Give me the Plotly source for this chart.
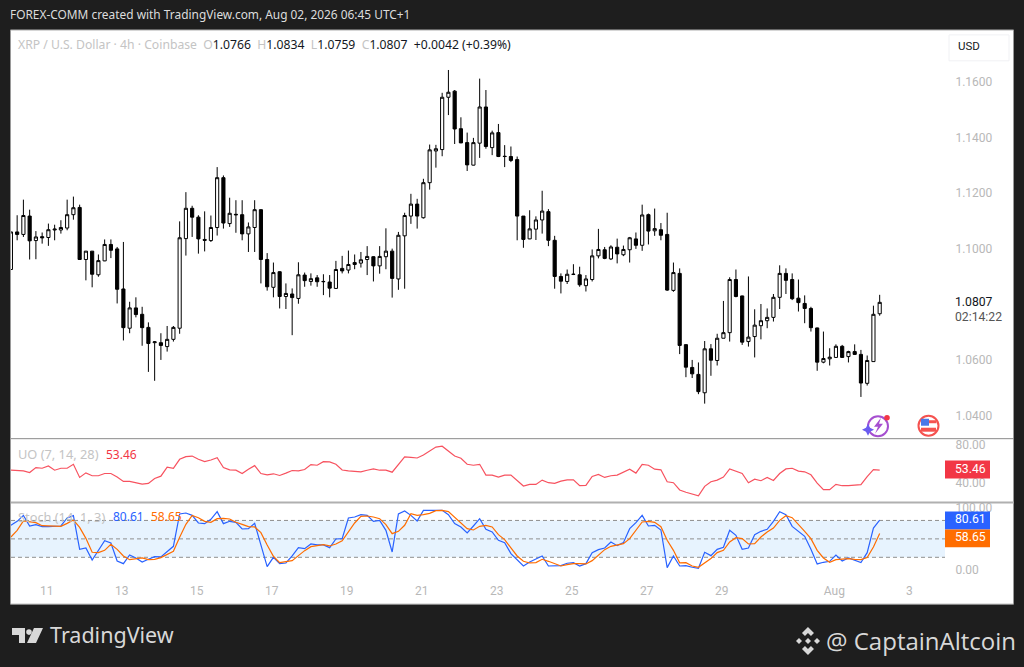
import pandas as pd
import plotly.graph_objects as go

W, H = 1024, 667
opens = [1.0925,1.1060,1.1051,1.1117,1.1029,1.1043,1.1040,1.1067,1.1067,1.1074,1.1122,1.1148,1.0961,1.0991,1.0906,1.0956,1.1015,1.0999,1.0855,1.0714,
1.0787,1.0764,1.0717,1.0662,1.0662,1.0648,1.0674,1.0714,1.1036,1.1145,1.1113,1.1033,1.1029,1.1076,1.1255,1.1090,1.1121,1.1122,1.1053,1.1076,
1.1140,1.0961,1.0861,1.0917,1.0828,1.0837,1.0821,1.0905,1.0882,1.0895,1.0881,1.0880,1.0857,1.0929,1.0923,1.0943,1.0948,1.0961,1.0971,1.0938,
1.0971,1.0991,1.0891,1.1046,1.1117,1.1160,1.1111,1.1237,1.1351,1.1356,1.1544,1.1566,1.1431,1.1381,1.1300,1.1379,1.1509,1.1363,1.1417,1.1332,
1.1331,1.1320,1.1117,1.1035,1.1070,1.1103,1.1133,1.1030,1.0900,1.0882,1.0907,1.0906,1.0867,1.0889,1.0974,1.0996,1.0963,1.1005,1.0978,1.0996,
1.1035,1.1012,1.1122,1.1064,1.1068,1.1051,1.0850,1.0911,1.0655,1.0573,1.0548,1.0482,1.0640,1.0598,1.0678,1.0698,1.0889,1.0830,1.0666,1.0684,
1.0723,1.0741,1.0753,1.0825,1.0911,1.0889,1.0822,1.0803,1.0785,1.0715,1.0592,1.0604,1.0609,1.0649,1.0612,1.0630,1.0620,1.0516,1.0594,1.0766]
highs = [1.1060,1.1120,1.1176,1.1140,1.1063,1.1058,1.1090,1.1086,1.1102,1.1176,1.1187,1.1158,1.0991,1.0991,1.0979,1.1033,1.1033,1.1006,1.1024,1.0809,
1.0825,1.0791,1.0735,1.0668,1.0696,1.0722,1.0722,1.1098,1.1203,1.1154,1.1120,1.1134,1.1119,1.1293,1.1263,1.1183,1.1174,1.1174,1.1094,1.1174,
1.1141,1.0984,1.0950,1.0919,1.0875,1.0857,1.0951,1.0914,1.0911,1.0905,1.0908,1.0905,1.0956,1.0974,1.0993,1.0979,1.0988,1.1009,1.0973,1.1009,
1.1073,1.1000,1.1060,1.1129,1.1197,1.1179,1.1251,1.1374,1.1373,1.1560,1.1642,1.1570,1.1472,1.1417,1.1398,1.1611,1.1570,1.1424,1.1448,1.1372,
1.1367,1.1331,1.1117,1.1138,1.1116,1.1208,1.1142,1.1046,1.0911,1.0925,1.0944,1.0935,1.0905,1.0997,1.1071,1.1006,1.1012,1.1036,1.1011,1.1042,
1.1058,1.1158,1.1126,1.1144,1.1092,1.1129,1.0950,1.0929,1.0656,1.0600,1.0591,1.0668,1.0657,1.0694,1.0812,1.0897,1.0925,1.0831,1.0900,1.0782,
1.0801,1.0785,1.0837,1.0940,1.0929,1.0911,1.0889,1.0832,1.0791,1.0716,1.0702,1.0642,1.0656,1.0654,1.0633,1.0656,1.0636,1.0616,1.0795,1.0834]
lows = [1.0925,1.1030,1.1042,1.0961,1.0962,1.1018,1.1010,1.1030,1.1054,1.1066,1.1104,1.0961,1.0886,1.0861,1.0899,1.0955,1.0966,1.0803,1.0670,1.0696,
1.0753,1.0651,1.0557,1.0525,1.0600,1.0630,1.0666,1.0694,1.0975,1.1042,1.0982,1.0990,1.1024,1.1047,1.1072,1.1078,1.1057,1.1030,1.0988,1.0988,
1.0875,1.0849,1.0825,1.0785,1.0783,1.0689,1.0802,1.0863,1.0867,1.0863,1.0833,1.0825,1.0856,1.0911,1.0911,1.0926,1.0932,1.0905,1.0882,1.0910,
1.0926,1.0824,1.0852,1.0856,1.1089,1.1072,1.1108,1.1212,1.1291,1.1332,1.1480,1.1376,1.1379,1.1279,1.1299,1.1326,1.1359,1.1336,1.1329,1.1293,
1.1311,1.1030,1.1003,1.1034,1.1031,1.1054,1.1009,1.0856,1.0839,1.0873,1.0905,1.0863,1.0846,1.0882,1.0965,1.0962,1.0959,1.0947,1.0973,1.0950,
1.0999,1.0992,1.1015,1.1046,1.1030,1.0848,1.0845,1.0621,1.0538,1.0535,1.0477,1.0443,1.0543,1.0580,1.0678,1.0666,1.0825,1.0654,1.0648,1.0609,
1.0674,1.0714,1.0738,1.0783,1.0837,1.0815,1.0774,1.0732,1.0702,1.0561,1.0588,1.0580,1.0608,1.0607,1.0591,1.0618,1.0467,1.0508,1.0594,1.0759]
closes = [1.1060,1.1051,1.1119,1.1028,1.1042,1.1039,1.1068,1.1070,1.1076,1.1122,1.1147,1.0961,1.0991,1.0908,1.0957,1.1015,1.0994,1.0854,1.0716,1.0787,
1.0763,1.0716,1.0659,1.0665,1.0652,1.0674,1.0717,1.1039,1.1145,1.1113,1.1035,1.1030,1.1076,1.1255,1.1092,1.1127,1.1123,1.1053,1.1078,1.1140,
1.0961,1.0863,1.0914,1.0828,1.0839,1.0824,1.0906,1.0885,1.0892,1.0881,1.0882,1.0858,1.0925,1.0920,1.0943,1.0950,1.0960,1.0972,1.0938,1.0972,
1.0991,1.0893,1.1048,1.1119,1.1160,1.1117,1.1237,1.1355,1.1359,1.1544,1.1562,1.1430,1.1380,1.1301,1.1381,1.1509,1.1367,1.1416,1.1331,1.1331,
1.1317,1.1117,1.1033,1.1071,1.1103,1.1135,1.1030,1.0900,1.0883,1.0908,1.0908,1.0870,1.0891,1.0974,1.0997,1.0965,1.1006,1.0981,1.0997,1.1039,
1.1012,1.1121,1.1063,1.1072,1.1048,1.0851,1.0914,1.0652,1.0574,1.0550,1.0486,1.0640,1.0599,1.0678,1.0698,1.0889,1.0828,1.0664,1.0682,1.0725,
1.0741,1.0753,1.0825,1.0911,1.0886,1.0820,1.0806,1.0785,1.0716,1.0592,1.0605,1.0610,1.0649,1.0609,1.0630,1.0620,1.0517,1.0598,1.0764,1.0807]
uo = [53.3,53.3,52.6,50.9,56.1,55.4,57.9,53.3,55.4,55.4,59.6,45.6,50.5,47.4,47.4,49.8,49.8,46.0,41.4,41.4,40.0,38.6,39.3,44.5,47.0,56.5,55.4,64.9,67.7,68.4,64.9,62.4,64.2,66.7,56.1,53.7,53.3,49.8,54.4,58.2,49.8,48.4,49.5,47.7,50.2,53.0,52.6,54.0,59.3,58.6,62.4,62.1,59.6,
53.5,52.6,51.9,51.6,53.3,54.7,53.3,53.3,51.2,59.6,67.4,67.0,66.3,69.5,74.0,77.9,78.9,74.0,68.4,66.0,59.6,58.6,59.6,48.1,48.1,46.0,48.1,48.1,42.4,36.5,38.2,38.2,42.8,40.0,39.3,41.7,43.1,43.1,36.8,37.2,46.6,48.8,45.6,47.4,48.1,50.9,54.4,50.2,59.6,58.6,54.4,53.7,41.0,40.0,32.3,
29.8,28.1,26.0,36.1,41.0,42.8,46.0,54.7,52.3,49.8,40.0,43.8,42.1,45.6,42.4,49.8,54.7,55.4,52.3,51.6,48.4,39.6,32.6,32.6,38.2,36.8,36.8,37.5,37.9,46.6,54.0,53.46]
stoch_k = [72.1,78.6,88.3,71.0,73.1,69.9,69.9,69.9,71.0,84.0,87.8,33.0,35.2,15.7,31.4,47.1,43.3,14.1,9.7,23.8,19.0,12.4,16.8,21.1,20.6,29.2,37.9,90.5,92.1,88.3,75.9,74.8,81.8,94.3,74.8,78.6,77.0,66.1,66.6,75.3,39.5,4.9,20.0,9.7,10.8,22.2,35.7,34.1,41.7,40.1,40.1,35.7,49.8,
50.4,84.0,85.6,89.4,88.3,78.6,80.2,63.9,28.7,90.5,95.4,88.3,79.1,96.4,96.4,96.4,96.4,89.4,74.8,69.4,59.6,71.0,82.9,65.6,61.2,47.7,43.9,26.0,15.2,5.9,12.4,17.9,22.2,5.9,5.9,6.5,10.3,11.4,5.9,9.7,27.6,32.5,35.2,45.0,39.0,43.9,66.6,76.4,88.3,71.0,72.1,64.5,3.2,22.2,5.9,
6.5,3.8,2.1,28.2,22.7,33.0,36.3,63.9,55.8,33.0,35.2,56.9,62.3,65.6,78.6,94.3,89.4,70.4,62.8,54.2,33.0,9.2,11.9,13.5,23.8,14.1,19.0,15.2,11.4,27.6,67.7,80.61]
stoch_d = [53.1,63.9,79.1,77.5,76.4,71.5,71.0,70.4,70.4,75.3,80.7,68.8,50.9,28.2,27.6,31.4,41.2,33.0,22.2,16.2,17.9,19.0,16.2,16.8,19.5,24.4,29.8,52.5,73.7,88.3,84.5,78.6,77.0,82.9,83.4,82.4,77.0,73.7,69.9,69.4,60.1,40.1,21.7,11.4,12.4,14.6,22.7,30.9,37.4,39.0,40.6,38.5,41.7,
47.0,62.3,75.9,86.7,87.2,85.6,82.9,73.1,58.5,62.3,72.1,91.0,88.3,89.4,91.6,95.9,96.4,94.3,85.6,76.4,66.6,64.5,70.4,72.1,69.4,56.9,48.8,35.2,22.2,13.5,10.8,11.4,16.8,13.5,9.7,5.9,8.1,9.7,9.7,9.2,14.6,24.4,32.5,37.9,39.5,42.2,50.4,63.9,77.5,78.6,77.0,69.9,47.7,31.4,11.0,
11.4,5.9,3.8,11.4,17.9,27.6,31.4,45.0,52.0,50.4,41.7,42.2,53.1,61.2,67.7,80.2,87.8,84.5,74.2,62.3,50.4,31.4,19.0,11.9,16.2,16.8,17.9,16.8,16.2,19.5,36.8,58.65]
for arr in (opens, highs, lows, closes, uo, stoch_k, stoch_d):
    assert len(arr) == 140, len(arr)

times = pd.date_range("2026-07-10 01:00", periods=140, freq="4h")
day_ticks = pd.to_datetime(["2026-07-11","2026-07-13","2026-07-15","2026-07-17","2026-07-19","2026-07-21","2026-07-23","2026-07-25","2026-07-27","2026-07-29","2026-08-01","2026-08-03"])
day_labels = ["11","13","15","17","19","21","23","25","27","29","Aug","3"]
price_ticks = [1.04, 1.06, 1.10, 1.12, 1.14, 1.16]
x_range = ["2026-07-10 01:04", "2026-08-03 22:48"]

def px(x): return x / W
def py(y): return 1 - y / H
FONT = "Noto Sans"
NUM = "Roboto"
GREY = "#b8b8b8"

fig = go.Figure()
fig.add_trace(go.Candlestick(x=times, open=opens, high=highs, low=lows, close=closes, xaxis="x", yaxis="y",
    increasing=dict(line=dict(color="#000000", width=1), fillcolor="#ffffff"),
    decreasing=dict(line=dict(color="#000000", width=1), fillcolor="#000000"),
    whiskerwidth=0, showlegend=False))
fig.add_trace(go.Scatter(x=times, y=uo, mode="lines", line=dict(color="#f7525f", width=1.2), xaxis="x2", yaxis="y2", showlegend=False))
fig.add_trace(go.Scatter(x=times, y=stoch_k, mode="lines", line=dict(color="#2962ff", width=1.2), xaxis="x3", yaxis="y3", showlegend=False))
fig.add_trace(go.Scatter(x=times, y=stoch_d, mode="lines", line=dict(color="#ff6d00", width=1.2), xaxis="x3", yaxis="y3", showlegend=False))

def rect(x0, y0, x1, y1, fill, line=None, lw=0, layer="below"):
    return dict(type="rect", xref="paper", yref="paper", x0=px(x0), x1=px(x1), y0=py(y0), y1=py(y1),
                fillcolor=fill, line=dict(color=line or fill, width=lw), layer=layer)
def hline(y, color, lw, x0=11, x1=1014):
    return dict(type="line", xref="paper", yref="paper", x0=px(x0), x1=px(x1), y0=py(y), y1=py(y), line=dict(color=color, width=lw), layer="above")
def path(pts, fill, layer="above"):
    d = "M " + " L ".join(f"{px(a):.5f},{py(b):.5f}" for a, b in pts) + " Z"
    return dict(type="path", xref="paper", yref="paper", path=d, fillcolor=fill, line=dict(width=0), layer=layer)
def circle(cx, cy, r, fill, line=None, lw=0):
    return dict(type="circle", xref="paper", yref="paper", x0=px(cx-r), x1=px(cx+r), y0=py(cy-r), y1=py(cy+r),
                fillcolor=fill, line=dict(color=line or fill, width=lw), layer="above")

shapes = [
    rect(10.5, 28, 1013.5, 604, "#ffffff", "#9a9a9a", 1),
    dict(type="rect", xref="paper", yref="y3", x0=px(11), x1=px(945), y0=20, y1=80, fillcolor="rgba(33,150,243,0.11)", line=dict(width=0), layer="below"),
]
for lvl in (80, 50, 20):
    shapes.append(dict(type="line", xref="paper", yref="y3", x0=px(11), x1=px(945), y0=lvl, y1=lvl,
                       line=dict(color="#8f8f8f", width=1, dash="4px,3px"), layer="below"))
shapes += [
    hline(438, "#8a8a8a", 1),
    hline(502, "#b0b0b0", 2),
    rect(949, 33, 1009, 59, "#ffffff", "#f0f1f4", 1, "above"),
    rect(945, 460, 990, 478, "#f23645", layer="above"),
    rect(945, 511, 990, 529, "#2962ff", layer="above"),
    rect(945, 529, 990, 547, "#ff6d00", layer="above"),
    # event icons
    circle(878, 425.5, 10, "#ffffff", "#a64fd0", 2),
    path([(881,417),(874,426),(878,426),(875,433),(883,423),(879,423)], "#a64fd0"),
    path([(868,423),(870,427),(874,429),(870,431),(868,435),(866,431),(862,429),(866,427)], "#6a5cf0"),
    circle(887, 417, 2.8, "#f23645"),
    circle(928.5, 425, 10, "#ffffff", "#f5524f", 2),
    rect(921, 418, 929, 425, "#4a78e8", layer="above"),
    rect(929, 419.5, 936.5, 422.5, "#f5524f", layer="above"),
    rect(921, 427, 936, 431, "#f5524f", layer="above"),
    # TradingView mark
    path([(12,628),(25,628),(25,643),(19,643),(19,635),(12,635)], "#d8d8d8"),
    circle(29, 632, 2.8, "#d8d8d8"),
    path([(34,628),(43,628),(36,643),(27,643)], "#d8d8d8"),
    # diamond mark
    path([(808,627),(814,633),(811,636),(808,633),(805,636),(802,633)], "#d8d8d8"),
    path([(808,655),(814,649),(811,646),(808,649),(805,646),(802,649)], "#d8d8d8"),
    path([(808,638),(811,641),(808,644),(805,641)], "#d8d8d8"),
    path([(799,638),(802,641),(799,644),(796,641)], "#d8d8d8"),
    path([(817,638),(820,641),(817,644),(814,641)], "#d8d8d8"),
]

def txt(x, y, text, size, color, font=FONT, anchor="left"):
    return dict(xref="paper", yref="paper", x=px(x), y=py(y), text=text, showarrow=False, xanchor=anchor, yanchor="middle",
                font=dict(family=font, size=size, color=color), align="left")
def g(s): return f'<span style="color:#c4c4c4">{s}</span>'

annotations = [
    txt(8, 12.5, "FOREX-COMM created with TradingView.com, Aug 02, 2026 06:45 UTC+1", 11.9, "#dcdcdc"),
    txt(16, 42.5, g("XRP / U.S. Dollar · 4h · Coinbase") + "  " + g("O") + "1.0766  " + g("H") + "1.0834  " + g("L") + "1.0759  " + g("C") + "1.0807  +0.0042 (+0.39%)", 12.2, "#131722"),
    txt(969, 44.5, "USD", 11.5, "#131722", NUM, "center"),
    txt(953, 301, "1.0807", 12.2, "#131722", NUM),
    txt(953, 316, "02:14:22", 12.2, "#555555", NUM),
    txt(16, 453.5, "UO (7, 14, 28)", 12.8, "#c4c4c4"),
    txt(104, 453.5, "53.46", 12, "#f23645"),
    txt(16, 516.5, "Stoch (14, 1, 3)", 12.8, "#c4c4c4"),
    txt(111, 516.5, "80.61", 12, "#2962ff"),
    txt(149, 516.5, "58.65", 12, "#ff6d00"),
    txt(953, 468, "53.46", 12.2, "#ffffff", NUM),
    txt(953, 519, "80.61", 12.2, "#ffffff", NUM),
    txt(953, 537, "58.65", 12.2, "#ffffff", NUM),
    txt(48, 634.5, "TradingView", 21.5, "#d8d8d8", "Noto Sans"),
    txt(824, 640, "@ CaptainAltcoin", 24, "#d8d8d8", "Open Sans"),
]

def yax(domain_px, rng, ticks, fmt):
    return dict(domain=[py(domain_px[1]), py(domain_px[0])], range=rng, tickmode="array", tickvals=ticks, tickformat=fmt,
                side="right", showgrid=False, zeroline=False, showline=False, ticks="outside", ticklen=7, tickcolor="rgba(0,0,0,0)",
                tickfont=dict(family=NUM, size=12, color=GREY), fixedrange=True)
def xax(show):
    d = dict(domain=[px(11), px(945)], range=x_range, type="date", showgrid=False, zeroline=False, showline=False, rangeslider=dict(visible=False), fixedrange=True)
    if show:
        d.update(tickmode="array", tickvals=day_ticks, ticktext=day_labels, ticks="outside", ticklen=1, tickcolor="rgba(0,0,0,0)",
                 tickfont=dict(family=NUM, size=12, color=GREY))
    else:
        d.update(showticklabels=False, ticks="")
    return d

fig.update_layout(
    width=W, height=H, margin=dict(l=0, r=0, t=0, b=0), paper_bgcolor="#1e1e1e", plot_bgcolor="rgba(0,0,0,0)",
    boxgap=0.28, hovermode=False, showlegend=False,
    xaxis=xax(False), xaxis2=dict(xax(False), anchor="y2"), xaxis3=dict(xax(True), anchor="y3"),
    yaxis=dict(yax((28, 438), [1.0317, 1.1786], price_ticks, ".4f"), anchor="x"),
    yaxis2=dict(yax((439, 501), [20.0, 85.8], [40, 80], ".2f"), anchor="x2"),
    yaxis3=dict(yax((503, 578), [-14.1, 107.6], [0, 100], ".2f"), anchor="x3"),
    shapes=shapes, annotations=annotations,
)
fig.write_html("out.html", config=dict(displayModeBar=False),
               post_script="document.body.style.margin='0';document.body.style.background='#1e1e1e';")
